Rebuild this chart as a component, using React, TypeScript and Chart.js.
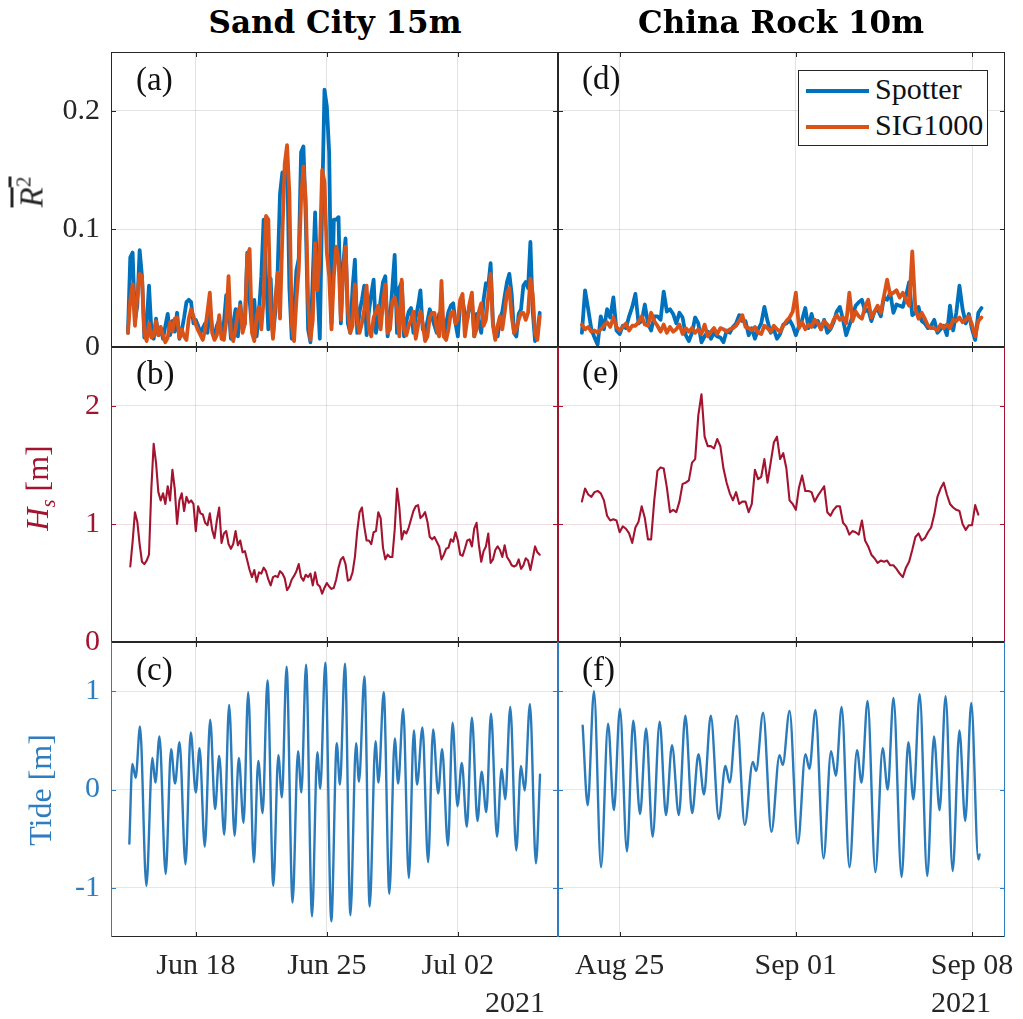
import React, { useEffect, useRef } from 'react';
import { Chart, registerables } from 'chart.js';

Chart.register(...registerables);

// ---------------- data ----------------
// time axis: day-of-month numbers (left column: June days, Jul 02 = 32; right column: August days, Sep 01 = 32)
const LEFT_X_MIN = 13.47;
const LEFT_X_MAX = 37.35;
const RIGHT_X_MIN = 22.55;
const RIGHT_X_MAX = 40.31;
const LEFT_X_TICKS = [18, 25, 32];
const LEFT_X_LABELS = ['Jun 18', 'Jun 25', 'Jul 02'];
const RIGHT_X_TICKS = [25, 32, 39];
const RIGHT_X_LABELS = ['Aug 25', 'Sep 01', 'Sep 08'];

const R2_TICKS = [0, 0.1, 0.2];
const R2_TICK_LABELS = ['0', '0.1', '0.2'];
const HS_TICKS = [0, 1, 2];
const HS_TICK_LABELS = ['0', '1', '2'];
const TIDE_TICKS = [-1, 0, 1];
const TIDE_TICK_LABELS = ['-1', '0', '1'];

// 3-hourly samples
const SAND_R2_T0 = 14.375;
const SAND_HS_T0 = 14.5;
const CHINA_T0 = 23.5;
const STEP = 0.125;

const SAND_SPOTTER = [
  0.012, 0.076, 0.080, 0.022, 0.035, 0.082, 0.060, 0.008, 0.020, 0.052,
  0.015, 0.007, 0.024, 0.010, 0.016, 0.007, 0.018, 0.028, 0.010, 0.022,
  0.013, 0.029, 0.007, 0.014, 0.025, 0.038, 0.040, 0.038, 0.020, 0.023,
  0.018, 0.012, 0.016, 0.020, 0.012, 0.035, 0.015, 0.010, 0.018, 0.023,
  0.010, 0.020, 0.044, 0.035, 0.007, 0.020, 0.032, 0.009, 0.038, 0.015,
  0.020, 0.080, 0.040, 0.015, 0.040, 0.009, 0.030, 0.060, 0.108, 0.060,
  0.015, 0.058, 0.010, 0.030, 0.065, 0.130, 0.148, 0.147, 0.165, 0.050,
  0.007, 0.030, 0.065, 0.075, 0.165, 0.170, 0.108, 0.015, 0.004, 0.060,
  0.114, 0.050, 0.007, 0.120, 0.218, 0.204, 0.165, 0.020, 0.108, 0.108,
  0.110, 0.020, 0.070, 0.092, 0.020, 0.012, 0.050, 0.074, 0.012, 0.030,
  0.040, 0.052, 0.010, 0.030, 0.045, 0.057, 0.012, 0.023, 0.040, 0.055,
  0.060, 0.009, 0.025, 0.050, 0.078, 0.012, 0.050, 0.055, 0.009, 0.022,
  0.030, 0.033, 0.012, 0.025, 0.035, 0.048, 0.015, 0.012, 0.022, 0.032,
  0.025, 0.018, 0.012, 0.028, 0.030, 0.009, 0.020, 0.030, 0.035, 0.037,
  0.020, 0.009, 0.037, 0.040, 0.028, 0.023, 0.035, 0.040, 0.009, 0.028,
  0.020, 0.012, 0.040, 0.054, 0.052, 0.071, 0.020, 0.010, 0.009, 0.024,
  0.030, 0.043, 0.055, 0.062, 0.045, 0.012, 0.009, 0.028, 0.032, 0.052,
  0.055, 0.050, 0.089, 0.030, 0.005, 0.012, 0.029,
];

const SAND_SIG = [
  0.012, 0.040, 0.053, 0.018, 0.043, 0.062, 0.060, 0.012, 0.005, 0.020,
  0.008, 0.010, 0.022, 0.010, 0.017, 0.010, 0.004, 0.008, 0.021, 0.013,
  0.024, 0.025, 0.008, 0.015, 0.009, 0.006, 0.024, 0.032, 0.026, 0.019,
  0.014, 0.010, 0.006, 0.015, 0.030, 0.046, 0.012, 0.006, 0.010, 0.027,
  0.007, 0.006, 0.022, 0.060, 0.012, 0.005, 0.015, 0.030, 0.035, 0.012,
  0.020, 0.077, 0.083, 0.012, 0.005, 0.026, 0.034, 0.015, 0.040, 0.111,
  0.108, 0.030, 0.007, 0.040, 0.063, 0.024, 0.095, 0.155, 0.171, 0.130,
  0.020, 0.005, 0.040, 0.066, 0.125, 0.153, 0.125, 0.040, 0.006, 0.023,
  0.088, 0.048, 0.080, 0.150, 0.140, 0.080, 0.060, 0.015, 0.060, 0.085,
  0.075, 0.023, 0.063, 0.085, 0.032, 0.012, 0.018, 0.053, 0.023, 0.012,
  0.020, 0.032, 0.052, 0.015, 0.009, 0.025, 0.030, 0.035, 0.015, 0.037,
  0.053, 0.012, 0.015, 0.038, 0.042, 0.032, 0.009, 0.057, 0.015, 0.010,
  0.018, 0.023, 0.030, 0.007, 0.018, 0.030, 0.020, 0.005, 0.009, 0.025,
  0.029, 0.029, 0.015, 0.009, 0.056, 0.009, 0.006, 0.015, 0.029, 0.030,
  0.020, 0.023, 0.040, 0.045, 0.009, 0.023, 0.037, 0.046, 0.009, 0.015,
  0.030, 0.037, 0.018, 0.023, 0.043, 0.062, 0.018, 0.006, 0.018, 0.026,
  0.015, 0.029, 0.046, 0.050, 0.026, 0.012, 0.015, 0.023, 0.029, 0.029,
  0.023, 0.029, 0.058, 0.045, 0.012, 0.006, 0.026,
];

const SAND_HS = [
  0.64, 0.85, 1.10, 1.02, 0.83, 0.68, 0.66, 0.69, 0.74, 1.30,
  1.68, 1.52, 1.27, 1.20, 1.26, 1.17, 1.32, 1.20, 1.46, 1.30,
  1.00, 1.20, 1.26, 1.11, 1.23, 1.18, 1.20, 1.17, 0.94, 1.15,
  1.09, 1.08, 1.01, 0.99, 1.09, 0.95, 0.88, 1.03, 1.14, 0.84,
  0.92, 0.94, 0.83, 0.79, 0.83, 0.94, 0.82, 0.86, 0.76, 0.77,
  0.69, 0.61, 0.55, 0.61, 0.51, 0.59, 0.58, 0.63, 0.60, 0.53,
  0.48, 0.55, 0.56, 0.55, 0.60, 0.58, 0.54, 0.44, 0.47, 0.53,
  0.56, 0.60, 0.66, 0.55, 0.52, 0.57, 0.55, 0.58, 0.48, 0.59,
  0.49, 0.47, 0.41, 0.46, 0.50, 0.47, 0.45, 0.46, 0.53, 0.63,
  0.70, 0.72, 0.66, 0.52, 0.53, 0.59, 0.72, 0.94, 1.10, 1.14,
  0.98, 0.86, 0.86, 0.83, 0.93, 0.94, 1.10, 1.05, 0.80, 0.70,
  0.74, 0.72, 0.72, 0.95, 1.30, 1.14, 0.87, 0.94, 0.92, 0.97,
  1.04, 1.11, 1.15, 1.16, 1.05, 1.07, 1.10, 1.02, 0.89, 0.87,
  0.89, 0.85, 0.81, 0.70, 0.74, 0.79, 0.80, 0.87, 0.85, 0.93,
  0.86, 0.74, 0.73, 0.79, 0.86, 0.87, 0.81, 0.96, 1.01, 0.82,
  0.68, 0.77, 0.81, 0.92, 0.67, 0.70, 0.78, 0.81, 0.78, 0.72,
  0.82, 0.72, 0.69, 0.65, 0.64, 0.65, 0.70, 0.62, 0.65, 0.71,
  0.69, 0.61, 0.71, 0.81, 0.76, 0.74,
];

const SAND_TIDE_T = [
  14.45, 14.61, 14.79, 15.02, 15.36, 15.68, 15.84, 16.06, 16.39, 16.68,
  16.89, 17.13, 17.45, 17.73, 18.00, 18.20, 18.48, 18.77, 19.03, 19.25,
  19.52, 19.78, 20.07, 20.30, 20.55, 20.80, 21.10, 21.34, 21.57, 21.83,
  22.14, 22.41, 22.60, 22.85, 23.17, 23.46, 23.64, 23.89, 24.21, 24.49,
  24.65, 24.92, 25.24, 25.53, 25.70, 25.97, 26.26, 26.56, 26.72, 27.01,
  27.29, 27.60, 27.76, 28.04, 28.34, 28.63, 28.81, 29.08, 29.38, 29.65,
  29.82, 30.11, 30.41, 30.68, 30.95, 31.16, 31.47, 31.72, 31.98, 32.21,
  32.48, 32.75, 33.05, 33.27, 33.52, 33.77, 34.09, 34.34, 34.53, 34.80,
  35.12, 35.37, 35.57, 35.85, 36.17, 36.39,
];
const SAND_TIDE = [
  -0.55, 0.26, 0.12, 0.64, -0.98, 0.32, 0.07, 0.54, -0.86, 0.41,
  0.06, 0.48, -0.76, 0.58, -0.03, 0.42, -0.58, 0.71, -0.20, 0.34,
  -0.46, 0.86, -0.47, 0.32, -0.34, 0.99, -0.74, 0.29, -0.24, 1.11,
  -0.98, 0.35, -0.08, 1.25, -1.15, 0.39, -0.03, 1.27, -1.29, 0.38,
  0.01, 1.29, -1.34, 0.47, 0.05, 1.28, -1.28, 0.47, 0.08, 1.15,
  -1.19, 0.49, 0.07, 0.99, -1.06, 0.52, 0.06, 0.82, -0.90, 0.60,
  0.05, 0.63, -0.74, 0.61, -0.04, 0.41, -0.57, 0.68, -0.17, 0.27,
  -0.38, 0.73, -0.32, 0.18, -0.23, 0.77, -0.48, 0.21, -0.10, 0.84,
  -0.62, 0.24, -0.01, 0.87, -0.75, 0.15,
];

const CHINA_SPOTTER = [
  0.012, 0.048, 0.032, 0.015, 0.008, 0.002, 0.026, 0.015, 0.032, 0.025,
  0.042, 0.014, 0.011, 0.018, 0.016, 0.026, 0.034, 0.045, 0.020, 0.022,
  0.036, 0.020, 0.014, 0.026, 0.026, 0.023, 0.047, 0.030, 0.032, 0.028,
  0.020, 0.029, 0.025, 0.010, 0.005, 0.012, 0.025, 0.020, 0.004, 0.009,
  0.013, 0.007, 0.012, 0.009, 0.008, 0.004, 0.014, 0.012, 0.017, 0.020,
  0.027, 0.022, 0.022, 0.010, 0.016, 0.007, 0.015, 0.020, 0.034, 0.022,
  0.012, 0.015, 0.007, 0.011, 0.019, 0.020, 0.023, 0.018, 0.010, 0.018,
  0.023, 0.033, 0.016, 0.028, 0.017, 0.022, 0.015, 0.023, 0.012, 0.015,
  0.021, 0.030, 0.034, 0.023, 0.010, 0.018, 0.026, 0.035, 0.038, 0.040,
  0.030, 0.032, 0.022, 0.030, 0.032, 0.026, 0.042, 0.040, 0.046, 0.029,
  0.036, 0.035, 0.034, 0.043, 0.055, 0.027, 0.029, 0.034, 0.022, 0.020,
  0.016, 0.018, 0.023, 0.012, 0.015, 0.018, 0.010, 0.035, 0.014, 0.029,
  0.052, 0.032, 0.020, 0.028, 0.015, 0.006, 0.029, 0.033,
];

const CHINA_SIG = [
  0.019, 0.015, 0.017, 0.013, 0.014, 0.012, 0.015, 0.018, 0.021, 0.017,
  0.025, 0.017, 0.014, 0.017, 0.020, 0.014, 0.018, 0.018, 0.021, 0.026,
  0.019, 0.018, 0.029, 0.022, 0.018, 0.013, 0.019, 0.012, 0.017, 0.013,
  0.015, 0.019, 0.011, 0.016, 0.013, 0.016, 0.012, 0.015, 0.011, 0.019,
  0.009, 0.013, 0.016, 0.011, 0.016, 0.015, 0.013, 0.015, 0.016, 0.018,
  0.022, 0.027, 0.017, 0.016, 0.014, 0.017, 0.012, 0.011, 0.018, 0.016,
  0.013, 0.018, 0.015, 0.013, 0.018, 0.022, 0.025, 0.030, 0.046, 0.016,
  0.021, 0.015, 0.019, 0.017, 0.023, 0.020, 0.015, 0.022, 0.019, 0.016,
  0.023, 0.027, 0.023, 0.025, 0.020, 0.046, 0.022, 0.030, 0.026, 0.024,
  0.034, 0.040, 0.025, 0.030, 0.035, 0.029, 0.043, 0.057, 0.044, 0.046,
  0.048, 0.042, 0.046, 0.040, 0.035, 0.081, 0.032, 0.024, 0.029, 0.024,
  0.018, 0.016, 0.016, 0.014, 0.019, 0.016, 0.019, 0.016, 0.023, 0.022,
  0.025, 0.021, 0.023, 0.026, 0.019, 0.009, 0.022, 0.025,
];

const CHINA_HS = [
  1.19, 1.30, 1.25, 1.23, 1.27, 1.28, 1.26, 1.20, 1.07, 1.03,
  1.04, 1.03, 0.93, 0.98, 0.96, 0.92, 0.84, 0.97, 1.02, 1.15,
  1.05, 0.87, 0.87, 1.20, 1.45, 1.48, 1.47, 1.31, 1.10, 1.12,
  1.10, 1.19, 1.34, 1.35, 1.37, 1.52, 1.55, 1.92, 2.10, 1.74,
  1.66, 1.66, 1.64, 1.72, 1.66, 1.47, 1.35, 1.26, 1.20, 1.27,
  1.17, 1.19, 1.19, 1.10, 1.17, 1.46, 1.38, 1.40, 1.55, 1.35,
  1.52, 1.69, 1.74, 1.55, 1.60, 1.47, 1.20, 1.17, 1.12, 1.31,
  1.41, 1.28, 1.28, 1.27, 1.19, 1.24, 1.28, 1.32, 1.10, 1.07,
  1.12, 1.15, 1.15, 1.01, 0.98, 0.91, 0.94, 0.93, 0.91, 1.03,
  0.86, 0.81, 0.74, 0.71, 0.67, 0.69, 0.68, 0.69, 0.65, 0.65,
  0.62, 0.58, 0.55, 0.63, 0.68, 0.78, 0.89, 0.92, 0.86, 0.88,
  0.93, 0.97, 1.08, 1.23, 1.30, 1.35, 1.25, 1.17, 1.14, 1.12,
  1.11, 1.00, 0.95, 0.99, 0.99, 1.16, 1.08,
];

const CHINA_TIDE_T = [
  23.53, 23.73, 23.98, 24.26, 24.54, 24.77, 25.01, 25.29, 25.54, 25.81,
  26.05, 26.31, 26.59, 26.84, 27.08, 27.35, 27.61, 27.88, 28.13, 28.35,
  28.62, 28.94, 29.20, 29.37, 29.65, 29.97, 30.29, 30.42, 30.70, 31.03,
  31.35, 31.48, 31.75, 32.08, 32.38, 32.54, 32.78, 33.10, 33.40, 33.59,
  33.82, 34.13, 34.43, 34.61, 34.85, 35.16, 35.45, 35.65, 35.88, 36.20,
  36.47, 36.67, 36.92, 37.22, 37.49, 37.71, 37.95, 38.23, 38.50, 38.73,
  38.97, 39.25, 39.30,
];
const CHINA_TIDE = [
  0.65, -0.16, 1.00, -0.79, 0.67, -0.21, 0.82, -0.63, 0.70, -0.25,
  0.62, -0.48, 0.69, -0.26, 0.45, -0.26, 0.75, -0.24, 0.36, -0.05,
  0.75, -0.30, 0.24, 0.07, 0.75, -0.36, 0.28, 0.19, 0.78, -0.43,
  0.35, 0.25, 0.80, -0.55, 0.36, 0.21, 0.81, -0.70, 0.39, 0.14,
  0.84, -0.79, 0.40, 0.07, 0.90, -0.84, 0.42, 0.00, 0.93, -0.89,
  0.48, -0.10, 0.97, -0.88, 0.54, -0.21, 0.95, -0.83, 0.60, -0.32,
  0.88, -0.71, -0.66,
];

// ---------------- style ----------------
const FONT = '"Liberation Serif", "Times New Roman", serif';
const TITLE_FONT = '"DejaVu Serif", serif';
const AXIS = '#262626';
const BLUE = '#0072BD';
const ORANGE = '#D95319';
const RED = '#A2142F';
const TIDE_LINE = '#2B7BBB';
const TIDE_TEXT = '#2E7EBF';
const GRID_GRAY = 'rgba(38,38,38,0.13)';
const GRID_RED = 'rgba(162,20,47,0.14)';
const GRID_BLUE = 'rgba(0,114,189,0.14)';

const uniform = (t0: number, vals: number[]) => vals.map((y, i) => ({ x: t0 + i * STEP, y }));
const paired = (ts: number[], vs: number[]) => ts.map((x, i) => ({ x, y: vs[i] }));

const framePlugin = {
  id: 'frame',
  afterDraw(chart: any, _args: any, opts: any) {
    const { ctx, chartArea: a, scales } = chart;
    const xs = scales.x;
    const ys = scales.y;
    const TL = 5;
    ctx.save();
    ctx.lineWidth = 1;
    ctx.strokeStyle = AXIS;
    ctx.beginPath();
    xs.ticks.forEach((t: any) => {
      const p = Math.round(xs.getPixelForValue(t.value)) + 0.5;
      ctx.moveTo(p, a.bottom);
      ctx.lineTo(p, a.bottom - TL);
      ctx.moveTo(p, a.top);
      ctx.lineTo(p, a.top + TL);
    });
    ctx.moveTo(a.left, a.top + 0.5);
    ctx.lineTo(a.right, a.top + 0.5);
    ctx.moveTo(a.left, a.bottom - 0.5);
    ctx.lineTo(a.right, a.bottom - 0.5);
    ctx.stroke();
    ctx.strokeStyle = opts.yColor;
    ctx.beginPath();
    ys.ticks.forEach((t: any) => {
      const p = Math.round(ys.getPixelForValue(t.value)) + 0.5;
      ctx.moveTo(a.left, p);
      ctx.lineTo(a.left + TL, p);
      ctx.moveTo(a.right, p);
      ctx.lineTo(a.right - TL, p);
    });
    ctx.moveTo(a.left + 0.5, a.top);
    ctx.lineTo(a.left + 0.5, a.bottom);
    ctx.moveTo(a.right - 0.5, a.top);
    ctx.lineTo(a.right - 0.5, a.bottom);
    ctx.stroke();
    ctx.restore();
  },
};

type PanelSpec = {
  key: string;
  left: number;
  top: number;
  width: number;
  height: number;
  ml: number;
  mr: number;
  mt: number;
  mb: number;
  datasets: any[];
  xMin: number;
  xMax: number;
  xTicks: number[];
  xLabels: string[];
  showX: boolean;
  yMin: number;
  yMax: number;
  yTicks: number[];
  yLabels: string[];
  showY: boolean;
  yColor: string;
  yGrid: string;
};

function ChartPanel(p: PanelSpec) {
  const ref = useRef<HTMLCanvasElement>(null);
  const W = p.width + p.ml + p.mr;
  const H = p.height + p.mt + p.mb;
  useEffect(() => {
    const chart = new Chart(ref.current as HTMLCanvasElement, {
      type: 'line',
      data: { datasets: p.datasets },
      plugins: [framePlugin as any],
      options: {
        animation: false,
        responsive: false,
        maintainAspectRatio: false,
        events: [],
        layout: { padding: { left: 0, top: p.mt, right: p.mr, bottom: 0 } },
        plugins: {
          legend: { display: false },
          tooltip: { enabled: false },
          frame: { yColor: p.yColor },
        } as any,
        scales: {
          x: {
            type: 'linear',
            min: p.xMin,
            max: p.xMax,
            afterBuildTicks: (s: any) => {
              s.ticks = p.xTicks.map((v) => ({ value: v }));
            },
            afterFit: (s: any) => {
              s.height = p.mb;
              s.paddingLeft = 0;
              s.paddingRight = 0;
            },
            grid: { color: GRID_GRAY, lineWidth: 1, drawTicks: false },
            border: { display: false },
            ticks: {
              display: p.showX,
              autoSkip: false,
              maxRotation: 0,
              padding: 11,
              color: AXIS,
              font: { family: FONT, size: 30 },
              callback: (_v: any, i: number) => p.xLabels[i],
            },
          },
          y: {
            type: 'linear',
            min: p.yMin,
            max: p.yMax,
            afterBuildTicks: (s: any) => {
              s.ticks = p.yTicks.map((v) => ({ value: v }));
            },
            afterFit: (s: any) => {
              s.width = p.ml;
              s.paddingTop = 0;
              s.paddingBottom = 0;
            },
            grid: { color: p.yGrid, lineWidth: 1, drawTicks: false },
            border: { display: false },
            ticks: {
              display: p.showY,
              autoSkip: false,
              padding: 11,
              color: p.yColor,
              font: { family: FONT, size: 30 },
              callback: (_v: any, i: number) => p.yLabels[i],
            },
          },
        },
      } as any,
    });
    return () => chart.destroy();
  }, []);
  return (
    <canvas
      ref={ref}
      width={W}
      height={H}
      style={{ position: 'absolute', left: p.left - p.ml, top: p.top - p.mt, width: W, height: H }}
    />
  );
}

const lineDs = (label: string, data: any[], color: string, width: number, order: number, smooth = false) => ({
  label,
  data,
  borderColor: color,
  backgroundColor: color,
  borderWidth: width,
  pointRadius: 0,
  fill: false,
  order,
  borderJoinStyle: 'round',
  borderCapStyle: 'round',
  tension: 0,
  cubicInterpolationMode: smooth ? 'monotone' : 'default',
});

function buildPanels(): PanelSpec[] {
  const cols = [
    { x: 111, w: 447, ml: 111, xMin: LEFT_X_MIN, xMax: LEFT_X_MAX, xTicks: LEFT_X_TICKS, xLabels: LEFT_X_LABELS, showY: true },
    { x: 558, w: 447, ml: 10, xMin: RIGHT_X_MIN, xMax: RIGHT_X_MAX, xTicks: RIGHT_X_TICKS, xLabels: RIGHT_X_LABELS, showY: false },
  ];
  const rows = [
    { y: 52, h: 295, mb: 10, yMin: 0, yMax: 0.25, yTicks: R2_TICKS, yLabels: R2_TICK_LABELS, yColor: AXIS, yGrid: GRID_GRAY, showX: false },
    { y: 347, h: 295, mb: 10, yMin: 0, yMax: 2.5, yTicks: HS_TICKS, yLabels: HS_TICK_LABELS, yColor: RED, yGrid: GRID_RED, showX: false },
    { y: 642, h: 295, mb: 75, yMin: -1.5, yMax: 1.5, yTicks: TIDE_TICKS, yLabels: TIDE_TICK_LABELS, yColor: TIDE_TEXT, yGrid: GRID_BLUE, showX: true },
  ];
  const data = [
    [
      [lineDs('Spotter', uniform(SAND_R2_T0, SAND_SPOTTER), BLUE, 3.8, 2), lineDs('SIG1000', uniform(SAND_R2_T0, SAND_SIG), ORANGE, 3.8, 1)],
      [lineDs('Hs', uniform(SAND_HS_T0, SAND_HS), RED, 2.1, 1)],
      [lineDs('Tide', paired(SAND_TIDE_T, SAND_TIDE), TIDE_LINE, 2.4, 1, true)],
    ],
    [
      [lineDs('Spotter', uniform(CHINA_T0, CHINA_SPOTTER), BLUE, 3.8, 2), lineDs('SIG1000', uniform(CHINA_T0, CHINA_SIG), ORANGE, 3.8, 1)],
      [lineDs('Hs', uniform(CHINA_T0, CHINA_HS), RED, 2.1, 1)],
      [lineDs('Tide', paired(CHINA_TIDE_T, CHINA_TIDE), TIDE_LINE, 2.4, 1, true)],
    ],
  ];
  const out: PanelSpec[] = [];
  cols.forEach((c, ci) => {
    rows.forEach((r, ri) => {
      out.push({
        key: `p${ci}${ri}`,
        left: c.x,
        top: r.y,
        width: c.w,
        height: r.h,
        ml: c.ml,
        mr: 16,
        mt: 10,
        mb: r.mb,
        datasets: data[ci][ri],
        xMin: c.xMin,
        xMax: c.xMax,
        xTicks: c.xTicks,
        xLabels: c.xLabels,
        showX: r.showX,
        yMin: r.yMin,
        yMax: r.yMax,
        yTicks: r.yTicks,
        yLabels: r.yLabels,
        showY: c.showY,
        yColor: r.yColor,
        yGrid: r.yGrid,
      });
    });
  });
  return out;
}

function Txt(props: { x: number; y: number; children: any; size?: number; color?: string; bold?: boolean; rotate?: boolean; alignLeft?: boolean; family?: string }) {
  const { x, y, children, size = 30, color = '#111', bold = false, rotate = false, alignLeft = false, family = FONT } = props;
  const tx = alignLeft ? '0' : '-50%';
  return (
    <div
      style={{
        position: 'absolute',
        left: x,
        top: y,
        transform: `translate(${tx}, -50%)${rotate ? ' rotate(-90deg)' : ''}`,
        transformOrigin: 'center center',
        whiteSpace: 'nowrap',
        fontFamily: family,
        fontSize: size,
        fontWeight: bold ? 'bold' : 'normal',
        color,
        lineHeight: 1,
      }}
    >
      {children}
    </div>
  );
}

export default function App() {
  const panels = buildPanels();
  return (
    <div style={{ position: 'absolute', left: 0, top: 0, width: 1023, height: 1019, overflow: 'hidden', background: '#fff' }}>
      {panels.map((p) => (
        <ChartPanel {...p} />
      ))}
      <Txt x={335} y={22} size={31} bold family={TITLE_FONT} color="#000">Sand City 15m</Txt>
      <Txt x={781} y={22} size={31} bold family={TITLE_FONT} color="#000">China Rock 10m</Txt>

      <Txt x={136} y={78.5} size={33} alignLeft>(a)</Txt>
      <Txt x={136} y={372.5} size={33} alignLeft>(b)</Txt>
      <Txt x={136} y={668.5} size={33} alignLeft>(c)</Txt>
      <Txt x={582} y={77.5} size={33} alignLeft>(d)</Txt>
      <Txt x={582} y={371.5} size={33} alignLeft>(e)</Txt>
      <Txt x={582} y={668.5} size={33} alignLeft>(f)</Txt>

      <Txt x={31} y={192} size={33} rotate color={AXIS}>
        <span style={{ textDecoration: 'overline' }}>
          <i>R</i>
          <sup style={{ fontSize: '0.65em' }}>2</sup>
        </span>
      </Txt>
      <Txt x={40} y={488} size={32} rotate color={RED}>
        <i>H</i>
        <sub style={{ fontSize: '0.65em' }}>
          <i>s</i>
        </sub>{' '}
        [m]
      </Txt>
      <Txt x={40} y={790} size={32} rotate color={TIDE_TEXT}>Tide [m]</Txt>

      <Txt x={515} y={1002} color={AXIS}>2021</Txt>
      <Txt x={961} y={1002} color={AXIS}>2021</Txt>

      <div
        style={{
          position: 'absolute',
          left: 798,
          top: 70,
          width: 190,
          height: 76,
          boxSizing: 'border-box',
          border: `1px solid ${AXIS}`,
          background: '#fff',
        }}
      >
        <div style={{ position: 'absolute', left: 7, top: 18, width: 63, height: 4, background: BLUE }} />
        <div style={{ position: 'absolute', left: 7, top: 54, width: 63, height: 4, background: ORANGE }} />
        <div style={{ position: 'absolute', left: 76, top: 2, fontFamily: FONT, fontSize: 30, lineHeight: '32px', color: '#111' }}>Spotter</div>
        <div style={{ position: 'absolute', left: 76, top: 38, fontFamily: FONT, fontSize: 30, lineHeight: '32px', color: '#111' }}>SIG1000</div>
      </div>
    </div>
  );
}
